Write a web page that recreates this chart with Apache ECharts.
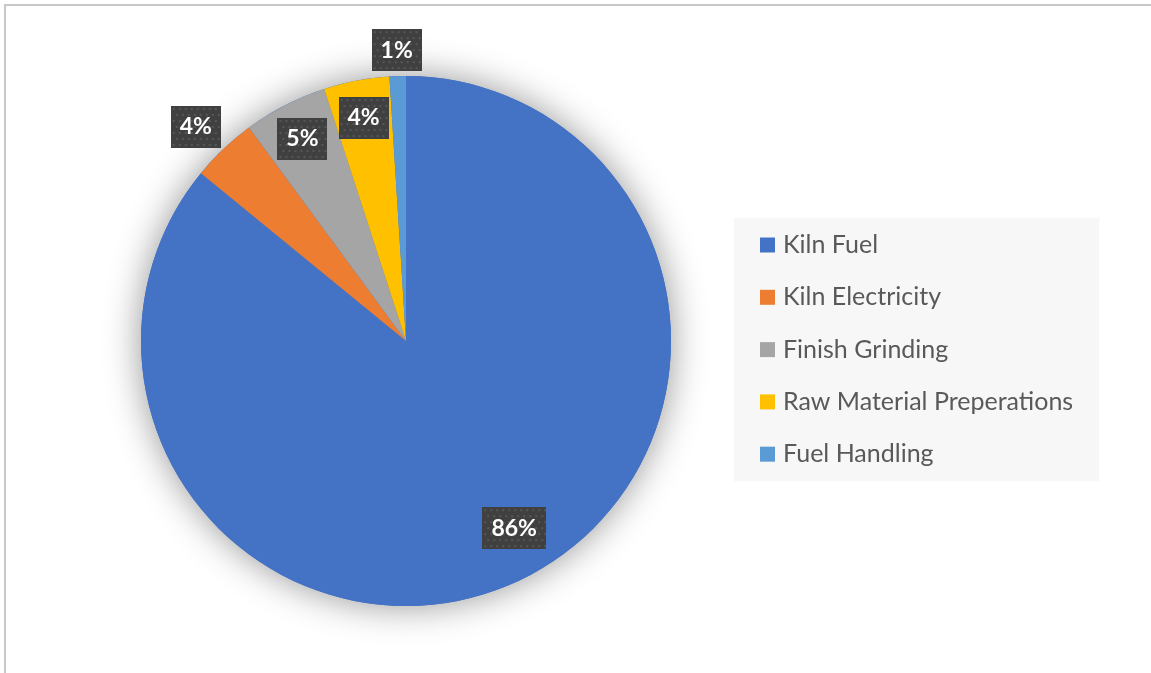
<!DOCTYPE html>
<html><head><meta charset="utf-8">
<script src="https://cdn.jsdelivr.net/npm/echarts@6/dist/echarts.min.js"></script>
<style>html,body{margin:0;padding:0;background:#fff}#c{width:1151px;height:673px}</style>
</head><body><div id="c"></div>
<script>
const categories = ['Kiln Fuel', 'Kiln Electricity', 'Finish Grinding', 'Raw Material Preperations', 'Fuel Handling'];
const values = [86.0, 4.0, 5.1, 4.0, 1.0];
const colors = ['#4472C4', '#ED7D31', '#A5A5A5', '#FFC000', '#5B9BD5'];
const insideLabelIdx = [0, 2, 3];
const outsideLabelIdx = [1, 4];

const FONT = 'Lato';
const CENTER = [406, 341];
const R = 265;

function dots(w, h) {
  const c = document.createElement('canvas');
  c.width = w; c.height = h;
  const g = c.getContext('2d');
  g.fillStyle = '#404040'; g.fillRect(0, 0, w, h);
  g.fillStyle = '#575757';
  let row = 0;
  for (let y = 2; y < h; y += 6, row++) {
    for (let x = (row % 2 ? 5 : 2); x < w; x += 6) g.fillRect(x, y, 2, 2);
  }
  return c;
}
const bgSmall = dots(50, 42);
const bgBig = dots(64, 42);

function labelBase() {
  return {
    show: true, position: 'inside',
    formatter: p => Math.round(p.percent) + '%',
    color: '#ffffff', fontFamily: FONT, fontWeight: 'bold', fontSize: 23,
    width: 50, height: 42, lineHeight: 42, align: 'center', verticalAlign: 'middle',
    backgroundColor: { image: bgSmall },
    shadowColor: 'rgba(0,0,0,0.45)', shadowBlur: 6, shadowOffsetX: 3, shadowOffsetY: 3
  };
}

function labelData(showIdx) {
  return categories.map((name, i) => {
    const d = { name, value: values[i] };
    if (showIdx.indexOf(i) < 0) d.label = { show: false };
    else if (values[i] >= 10) d.label = { width: 64, backgroundColor: { image: bgBig } };
    return d;
  });
}

const transparentItem = { color: 'rgba(0,0,0,0)', borderWidth: 0 };
const total = values.reduce((a, b) => a + b, 0);

const chart = echarts.init(document.getElementById('c'), null, { renderer: 'canvas' });
chart.setOption({
  backgroundColor: '#ffffff',
  animation: false,
  color: colors,
  graphic: [{
    type: 'rect', z: 0, silent: true,
    shape: { x: 5, y: 5, width: 1300, height: 800 },
    style: { fill: 'none', stroke: '#c8c8c8', lineWidth: 2 }
  }],
  legend: {
    orient: 'vertical', left: 734, top: 218,
    backgroundColor: '#f7f7f7',
    padding: [14, 26, 14, 26],
    itemWidth: 15, itemHeight: 15, itemGap: 26.3,
    icon: 'rect',
    selectedMode: false,
    data: categories,
    textStyle: { color: '#595959', fontFamily: FONT, fontSize: 25, lineHeight: 26, padding: [0, 0, 0, 3] }
  },
  series: [
    {
      name: 'main', type: 'pie', z: 3,
      center: CENTER, radius: R, startAngle: 90, clockwise: true,
      silent: true, avoidLabelOverlap: false,
      label: { show: false }, labelLine: { show: false },
      itemStyle: { borderWidth: 0 },
      data: categories.map((name, i) => ({ name, value: values[i] }))
    },
    {
      name: 'shadow', type: 'pie', z: 1,
      center: CENTER, radius: R, silent: true,
      label: { show: false }, labelLine: { show: false },
      itemStyle: { color: '#4472C4', shadowBlur: 36, shadowColor: 'rgba(0,0,0,0.42)' },
      data: [{ name: 'total', value: total }]
    },
    {
      name: 'labelsInside', type: 'pie', z: 5,
      center: CENTER, radius: [200, 248], startAngle: 90, clockwise: true,
      silent: true, avoidLabelOverlap: false,
      itemStyle: transparentItem,
      label: labelBase(), labelLine: { show: false },
      labelLayout: p => (p.dataIndex === 0 ? { dx: 11, dy: -18 } : {}),
      data: labelData(insideLabelIdx)
    },
    {
      name: 'labelsOutside', type: 'pie', z: 5,
      center: CENTER, radius: [280, 310], startAngle: 90, clockwise: true,
      silent: true, avoidLabelOverlap: false,
      itemStyle: transparentItem,
      label: labelBase(), labelLine: { show: false },
      labelLayout: p => (p.dataIndex === 4 ? { dy: 7 } : p.dataIndex === 1 ? { dx: -5, dy: 2 } : {}),
      data: labelData(outsideLabelIdx)
    }
  ]
});
</script>
</body></html>
